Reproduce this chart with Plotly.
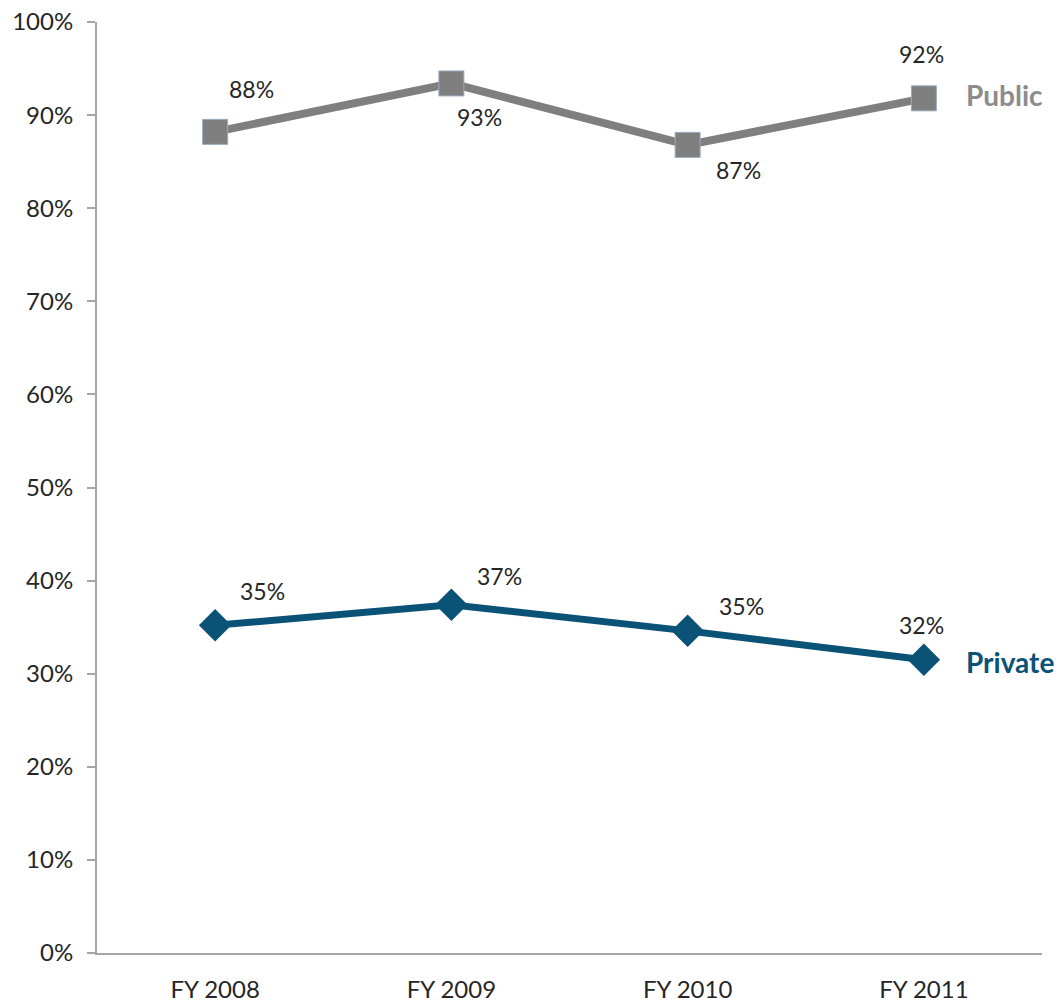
import plotly.graph_objects as go

years = ['FY 2008', 'FY 2009', 'FY 2010', 'FY 2011']
public = [88.2, 93.4, 86.8, 91.8]
private = [35.2, 37.4, 34.6, 31.5]
public_labels = ['88%', '93%', '87%', '92%']
private_labels = ['35%', '37%', '35%', '32%']

# label offsets in pixels (dx, dy up)
public_off = [(36, 43), (28, -34), (51, -25), (-2, 44)]
private_off = [(47, 34), (48, 29), (54, 25), (-2, 35)]

gray = '#7f7f7f'
blue = '#0b5277'
font = 'Lato, Carlito, Open Sans, sans-serif'

fig = go.Figure()
fig.add_trace(go.Scatter(x=years, y=public, mode='lines+markers',
                         line=dict(color=gray, width=8),
                         marker=dict(symbol='square', size=25, color=gray,
                                     line=dict(color='#9aaac0', width=1)),
                         cliponaxis=False, showlegend=False))
fig.add_trace(go.Scatter(x=years, y=private, mode='lines+markers',
                         line=dict(color=blue, width=7),
                         marker=dict(symbol='diamond', size=25, color=blue),
                         cliponaxis=False, showlegend=False))

for yr, v, t, (dx, dy) in zip(years, public, public_labels, public_off):
    fig.add_annotation(x=yr, y=v, text=t, showarrow=False, xshift=dx, yshift=dy,
                       font=dict(size=23, color='#262626', family=font))
for yr, v, t, (dx, dy) in zip(years, private, private_labels, private_off):
    fig.add_annotation(x=yr, y=v, text=t, showarrow=False, xshift=dx, yshift=dy,
                       font=dict(size=23, color='#262626', family=font))

fig.add_annotation(x=years[-1], y=public[-1], text='<b>Public</b>', showarrow=False,
                   xanchor='left', xshift=40, yshift=3,
                   font=dict(size=28, color='#8c8c8c', family=font))
fig.add_annotation(x=years[-1], y=private[-1], text='<b>Private</b>', showarrow=False,
                   xanchor='left', xshift=40, yshift=-2,
                   font=dict(size=28, color=blue, family=font))

fig.update_xaxes(range=[-0.5, 3.5], showline=True, linecolor='#a6a6a6', linewidth=2,
                 ticks='', showgrid=False, zeroline=False, ticklabelstandoff=14,
                 ticklabeloverflow='allow', automargin=False,
                 tickfont=dict(size=24, color='#262626', family=font))
fig.update_yaxes(range=[0, 100], dtick=10, ticksuffix='%', showline=True,
                 linecolor='#a6a6a6', linewidth=2, ticks='outside', ticklen=8,
                 tickcolor='#a6a6a6', tickwidth=2, showgrid=False, zeroline=False,
                 ticklabelstandoff=9, ticklabeloverflow='allow', automargin=False,
                 tickfont=dict(size=24, color='#262626', family=font))

fig.update_layout(width=1062, height=1003, plot_bgcolor='white', paper_bgcolor='white',
                  margin=dict(l=89, r=28, t=14, b=58, autoexpand=False))

fig.write_html('out.html')
